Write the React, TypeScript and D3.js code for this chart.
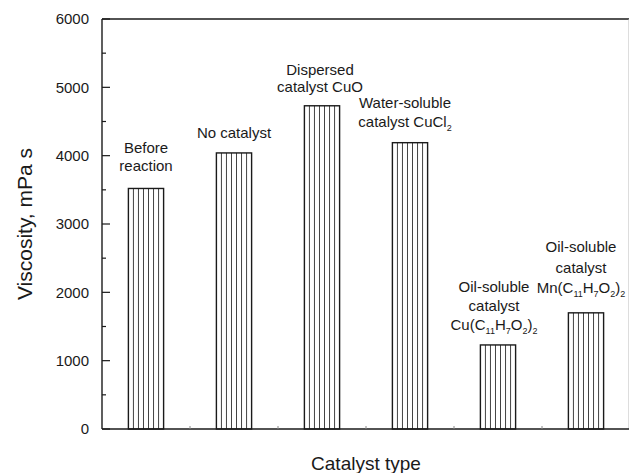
import React from "react";
import * as d3 from "d3";

const categories = ["before", "none", "cuo", "cucl2", "cuacac", "mnacac"];
const viscosity = [3520, 4040, 4730, 4190, 1230, 1700];
const barLabels: string[][] = [
  ["Before", "reaction"],
  ["No catalyst"],
  ["Dispersed", "catalyst CuO"],
  ["Water-soluble", "catalyst CuCl_{2}"],
  ["Oil-soluble", "catalyst", "Cu(C_{11}H_{7}O_{2})_{2}"],
  ["Oil-soluble", "catalyst", "Mn(C_{11}H_{7}O_{2})_{2}"],
];
const yMajorTicks = [0, 1000, 2000, 3000, 4000, 5000, 6000];
const yMinorTicks = [500, 1500, 2500, 3500, 4500, 5500];
const xTitle = "Catalyst type";
const yTitle = "Viscosity, mPa s";

// label placement tweaks (gap above bar top, horizontal shift, line height)
const labelGap = [17, 15, 14, 16, 15, 19.5];
const labelDx = [0, 0, -2, -5, -4, -5];
const labelLineH = [18, 18, 17, 18.5, 19, 20.5];

const W = 629;
const H = 473;
const M = { left: 102, top: 19, right: 630, bottom: 429 };
const FONT = "'Liberation Sans', Arial, Helvetica, sans-serif";
const INK = "#1a1a1a";

function parseSub(s: string) {
  const parts: { t: string; sub: boolean }[] = [];
  const re = /_\{([^}]*)\}/g;
  let last = 0;
  let m: RegExpExecArray | null;
  while ((m = re.exec(s))) {
    if (m.index > last) parts.push({ t: s.slice(last, m.index), sub: false });
    parts.push({ t: m[1], sub: true });
    last = m.index + m[0].length;
  }
  if (last < s.length) parts.push({ t: s.slice(last), sub: false });
  return parts;
}

function RichText({ x, y, text, size }: { x: number; y: number; text: string; size: number }) {
  const parts = parseSub(text);
  let prevSub = false;
  return (
    <text x={x} y={y} textAnchor="middle" fontSize={size} fontFamily={FONT} fill={INK}>
      {parts.map((p, i) => {
        let dy = 0;
        if (p.sub && !prevSub) dy = 4;
        if (!p.sub && prevSub) dy = -4;
        prevSub = p.sub;
        return (
          <tspan key={i} dy={dy} fontSize={p.sub ? size * 0.6 : size}>
            {p.t}
          </tspan>
        );
      })}
    </text>
  );
}

export default function App() {
  const x = d3
    .scaleBand<string>()
    .domain(categories)
    .range([M.left, M.right])
    .paddingInner(0.6)
    .paddingOuter(0.3);
  const y = d3.scaleLinear().domain([0, 6000]).range([M.bottom, M.top]);
  const bw = x.bandwidth();
  const step = x.step();
  const boundaries = categories.slice(1).map((c) => (x(c) as number) - (step - bw) / 2);

  return (
    <svg
      width={W}
      height={H}
      style={{ position: "absolute", left: 0, top: 0, background: "#fff" }}
    >
      {/* bars */}
      {categories.map((c, i) => {
        const x0 = x(c) as number;
        const y0 = y(viscosity[i]);
        const h = M.bottom - y0;
        const hatches = d3.range(1, 7).map((k) => x0 + (bw * k) / 7);
        return (
          <g key={c}>
            {hatches.map((hx, k) => (
              <line key={k} x1={hx} x2={hx} y1={y0} y2={M.bottom} stroke="#444" strokeWidth={1} />
            ))}
            <rect x={x0} y={y0} width={bw} height={h} fill="none" stroke={INK} strokeWidth={1.4} />
          </g>
        );
      })}

      {/* bar labels */}
      {categories.map((c, i) => {
        const cx = (x(c) as number) + bw / 2 + labelDx[i];
        const lines = barLabels[i];
        const baseY = y(viscosity[i]) - labelGap[i];
        return (
          <g key={"l" + c}>
            {lines.map((ln, k) => (
              <RichText
                key={k}
                x={cx}
                y={baseY - (lines.length - 1 - k) * labelLineH[i]}
                text={ln}
                size={15}
              />
            ))}
          </g>
        );
      })}

      {/* frame */}
      <line x1={M.left} x2={M.right} y1={M.top} y2={M.top} stroke={INK} strokeWidth={1.4} />
      <line x1={M.right - 1} x2={M.right - 1} y1={M.top} y2={M.bottom} stroke="#bbb" strokeWidth={1} />
      <line x1={M.left} x2={M.right} y1={M.bottom} y2={M.bottom} stroke={INK} strokeWidth={1.4} />
      <line x1={M.left} x2={M.left} y1={M.top} y2={M.bottom} stroke={INK} strokeWidth={1.4} />

      {/* y ticks */}
      {yMajorTicks.map((t) => (
        <g key={"yt" + t}>
          <line x1={M.left} x2={M.left + 8} y1={y(t)} y2={y(t)} stroke={INK} strokeWidth={1.2} />
          <text
            x={89}
            y={y(t)}
            dy="0.35em"
            textAnchor="end"
            fontSize={15}
            fontFamily={FONT}
            fill={INK}
          >
            {t}
          </text>
        </g>
      ))}
      {yMinorTicks.map((t) => (
        <line key={"ym" + t} x1={M.left} x2={M.left + 4} y1={y(t)} y2={y(t)} stroke={INK} strokeWidth={1.2} />
      ))}

      {/* x boundary ticks */}
      {boundaries.map((bx, i) => (
        <line key={"xb" + i} x1={bx} x2={bx} y1={M.bottom} y2={M.bottom - 3} stroke="#888" strokeWidth={1} />
      ))}

      {/* axis titles */}
      <text
        x={(M.left + M.right) / 2}
        y={470}
        textAnchor="middle"
        fontSize={19}
        fontFamily={FONT}
        fill={INK}
      >
        {xTitle}
      </text>
      <text
        transform={`translate(32, ${(M.top + M.bottom) / 2}) rotate(-90)`}
        textAnchor="middle"
        fontSize={21}
        fontFamily={FONT}
        fill={INK}
      >
        {yTitle}
      </text>
    </svg>
  );
}
